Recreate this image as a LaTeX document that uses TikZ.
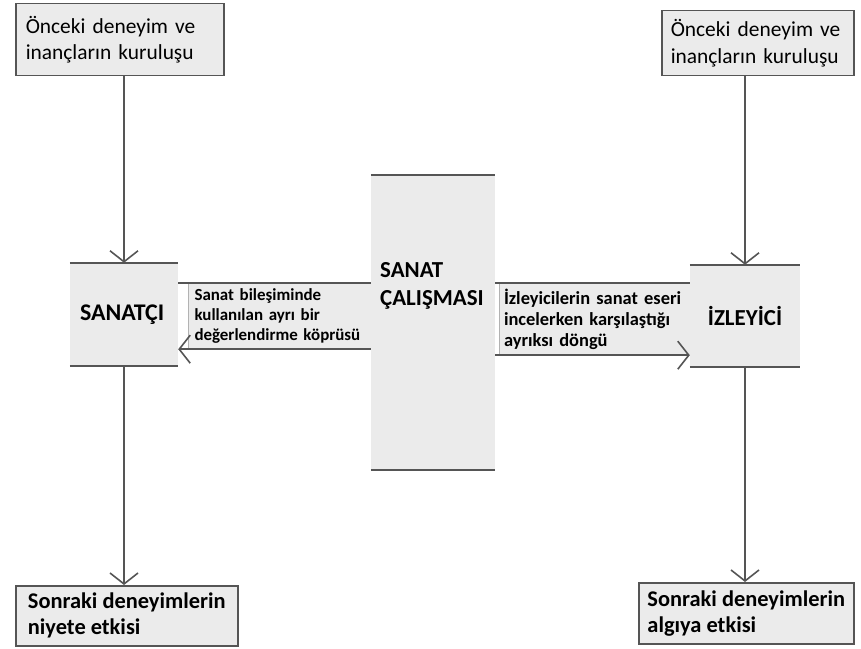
\documentclass[tikz,border=0pt]{standalone}
\usepackage{fontspec}
\setmainfont{Carlito}
\usepackage{tikz}
\usetikzlibrary{arrows.meta, positioning}

\hyphenpenalty=10000
\exhyphenpenalty=10000

\definecolor{kutu}{HTML}{EBEBEB}
\definecolor{cizgi}{HTML}{555555}

\tikzset{
  kutu/.style={rectangle, draw=cizgi, line width=1.5bp, fill=kutu, inner sep=0pt, align=left},
  blok/.style={rectangle, fill=kutu, inner sep=0pt},
  serit/.style={rectangle, fill=kutu, inner sep=0pt, align=left},
  hat/.style={draw=cizgi, line width=1.6bp},
  oku/.style={hat, -{Straight Barb[length=11bp, width=28bp, line width=1.6bp]}}
}

\begin{document}
\begin{tikzpicture}[x=1bp, y=-1bp]

  \useasboundingbox[fill=white] (0,0) rectangle (861,649);

  % Beginning boxes
  \node[kutu, anchor=north west, minimum width=208bp, minimum height=72bp,
        text width=188bp, font=\fontsize{21.5}{27}\selectfont] (onceL) at (15,3)
        {Önceki deneyim ve\\inançların kuruluşu};
  \node[kutu, anchor=north west, minimum width=192bp, minimum height=65bp,
        text width=174bp, font=\fontsize{21.5}{27}\selectfont] (onceR) at (661,10)
        {Önceki deneyim ve\\inançların kuruluşu};

  % Main blocks
  \node[blok, minimum width=108bp, minimum height=103bp, text width=88bp, align=left,
        font=\fontsize{24}{28}\selectfont\bfseries] (sanatci) at (124,314.5) {SANATÇI};
  \node[blok, minimum width=124bp, minimum height=295bp] (eser) at (433,322.5) {};
  \node[anchor=north west, inner sep=0pt, align=left,
        font=\fontsize{23}{28}\selectfont\bfseries] (eserad) at (380,262)
        {SANAT\\ÇALIŞMASI};
  \node[blok, minimum width=110bp, minimum height=102bp,
        font=\fontsize{23}{28}\selectfont\bfseries] (izleyici) at (745,316) {İZLEYİCİ};

  % Bands between the blocks
  \node[serit, minimum width=183bp, minimum height=66bp, text width=172bp,
        font=\fontsize{17}{20.5}\selectfont\bfseries] (kopru) at (280.5,316)
        {Sanat bileşiminde\\kullanılan ayrı bir\\değerlendirme köprüsü};
  \node[serit, minimum width=190bp, minimum height=72bp, text width=182bp,
        font=\fontsize{18.5}{21}\selectfont\bfseries] (dongu) at (595,319)
        {İzleyicilerin sanat eseri\\incelerken karşılaştığı\\ayrıksı döngü};

  % Ending boxes
  \node[kutu, anchor=north west, minimum width=222bp, minimum height=60bp,
        font=\fontsize{22.5}{26}\selectfont\bfseries] (sonrakiL) at (15,585)
        {Sonraki deneyimlerin\\niyete etkisi};
  \node[kutu, anchor=north west, minimum width=215bp, minimum height=61bp,
        font=\fontsize{22.5}{26}\selectfont\bfseries] (sonrakiR) at (638,582)
        {Sonraki deneyimlerin\\algıya etkisi};

  % Block edges
  \foreach \b in {sanatci, eser, izleyici} {
    \draw[hat] (\b.north west) -- (\b.north east);
    \draw[hat] (\b.south west) -- (\b.south east);
  }
  \draw[draw=gray!60, line width=0.8bp] (kopru.north west) -- (kopru.south west);
  \draw[draw=gray!60, line width=0.8bp] (dongu.north west) -- (dongu.south west);

  % Edges
  \draw[oku] (sanatci.north |- onceL.south) -- (sanatci.north);
  \draw[oku] (izleyici.north |- onceR.south) -- (izleyici.north);
  \draw[oku] (sanatci.south) -- (sanatci.south |- sonrakiL.north);
  \draw[oku] (izleyici.south) -- (izleyici.south |- sonrakiR.north);

  \draw[hat] (sanatci.east |- kopru.north) -- (eser.west |- kopru.north);
  \draw[oku] (eser.west |- kopru.south) -- (sanatci.east |- kopru.south);
  \draw[hat] (eser.east |- dongu.north) -- (izleyici.west |- dongu.north);
  \draw[oku] (eser.east |- dongu.south) -- (izleyici.west |- dongu.south);

\end{tikzpicture}
\end{document}
